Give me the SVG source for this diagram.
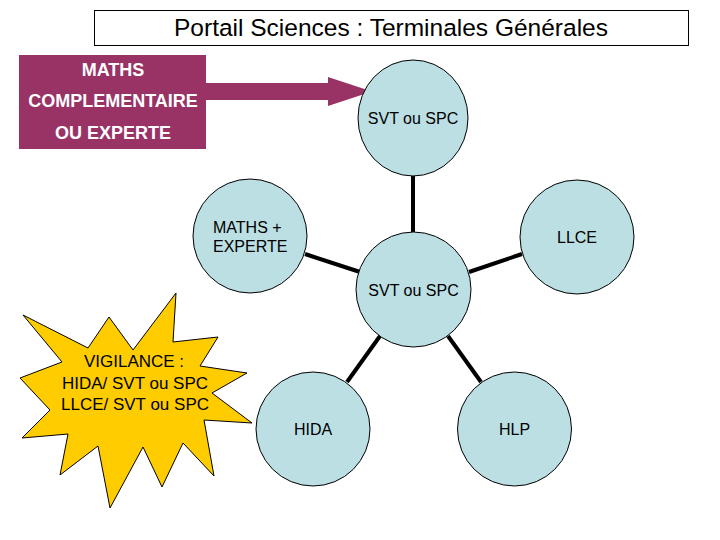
<svg xmlns="http://www.w3.org/2000/svg" width="720" height="540" viewBox="0 0 720 540">
<style>
.node{fill:#bbdfe3;stroke:#000;stroke-width:1}
.lbl{font-family:"Liberation Sans",Arial,sans-serif;font-size:16px;fill:#000}
.wl{font-family:"Liberation Sans",Arial,sans-serif;font-size:18px;font-weight:bold;fill:#fff;text-anchor:middle}
.conn line{stroke:#000;stroke-width:4}
.star{font-size:17px}
</style>
<rect width="720" height="540" fill="#fff"/>
<g id="title">
<rect x="94.5" y="10.5" width="594" height="35" fill="#fff" stroke="#000" stroke-width="1"/>
<text x="391" y="36" class="lbl" style="font-size:24.5px" text-anchor="middle">Portail Sciences : Terminales Générales</text>
</g>
<g id="maths-box">
<rect x="19" y="55" width="187" height="94" fill="#993366"/>
<text x="113" y="76" class="wl">MATHS</text>
<text x="113" y="107" class="wl">COMPLEMENTAIRE</text>
<text x="113" y="139" class="wl">OU EXPERTE</text>
<polygon points="206,83 328,83 328,77 372,91.5 328,106 328,100 206,100" fill="#993366"/>
</g>
<g class="conn" id="connectors">
<line x1="413" y1="175" x2="413" y2="232"/>
<line x1="305" y1="254" x2="360" y2="272"/>
<line x1="469" y1="272" x2="522" y2="254"/>
<line x1="380" y1="336" x2="347" y2="382"/>
<line x1="448" y1="336" x2="481" y2="382"/>
</g>
<g id="top">
<ellipse class="node" cx="413" cy="118" rx="55" ry="58"/>
<text x="413" y="124" class="lbl" text-anchor="middle">SVT ou SPC</text>
</g>
<g id="center">
<circle class="node" cx="413.5" cy="289.5" r="57.5"/>
<text x="413.5" y="296" class="lbl" text-anchor="middle">SVT ou SPC</text>
</g>
<g id="maths-experte">
<circle class="node" cx="250" cy="236" r="57"/>
<text x="213" y="233" class="lbl">MATHS +</text>
<text x="213" y="252" class="lbl">EXPERTE</text>
</g>
<g id="llce">
<circle class="node" cx="577" cy="237" r="57"/>
<text x="577" y="243" class="lbl" text-anchor="middle">LLCE</text>
</g>
<g id="hida">
<circle class="node" cx="313" cy="429" r="57"/>
<text x="313" y="435" class="lbl" text-anchor="middle">HIDA</text>
</g>
<g id="hlp">
<circle class="node" cx="514.5" cy="429" r="57"/>
<text x="514.5" y="435" class="lbl" text-anchor="middle">HLP</text>
</g>
<g id="vigilance">
<polygon points="23,315 88,348 109,317 133,350 176,293 173,342 218,337 200,366 247,373 212,393 252,423 204,420 214,476 183,443 162,487 143,447 110,508 98,446 60,475 68,434 22,438 50,410 20,378 62,362" fill="#ffcc00" stroke="#000" stroke-width="1"/>
<text x="134" y="367" class="lbl star" text-anchor="middle">VIGILANCE :</text>
<text x="135" y="389" class="lbl star" text-anchor="middle">HIDA/ SVT ou SPC</text>
<text x="135" y="410" class="lbl star" text-anchor="middle">LLCE/ SVT ou SPC</text>
</g>
</svg>
